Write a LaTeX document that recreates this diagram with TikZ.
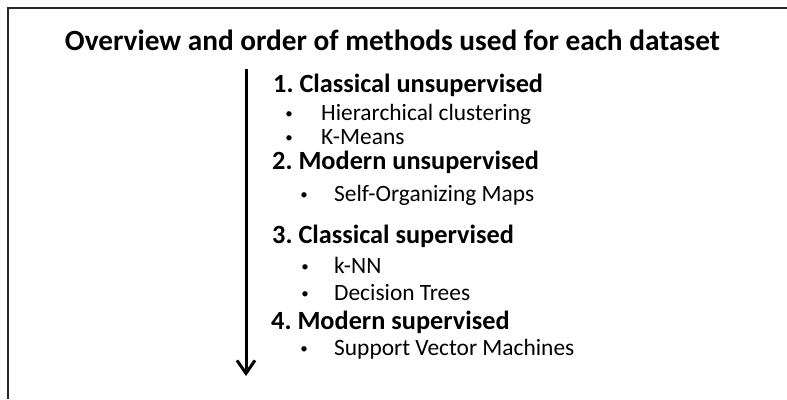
\documentclass[tikz,border=0pt]{standalone}
\usepackage{fontspec}
\setmainfont{Carlito}
\usetikzlibrary{arrows.meta,positioning}
\frenchspacing

\begin{document}
\begin{tikzpicture}[x=1pt, y=-1pt, every node/.style={inner sep=0pt, anchor=base west}]
    \tikzstyle{heading} = [font=\fontsize{29.3}{32}\selectfont\bfseries, anchor=base]
    \tikzstyle{stage} = [font=\fontsize{26.3}{30}\selectfont\bfseries]
    \tikzstyle{method} = [font=\fontsize{23.4}{27}\selectfont]
    \tikzstyle{dot} = [font=\fontsize{15}{18}\selectfont, anchor=base]
    \useasboundingbox (0,0) rectangle (787,399);
    \draw [line width=2pt, black!85] (8,399) -- (8,8) -- (787,8);

    \node (title) [heading] at (392.5,50) {Overview and order of methods used for each dataset};

    \node (classUnsup) [stage] at (273,92) {1. Classical unsupervised};
    \node (dotHier) [dot] at (289,118) {\textbullet};
    \node (hier) [method] at (321,120) {Hierarchical clustering};
    \node (dotKmeans) [dot] at (289,142) {\textbullet};
    \node (kmeans) [method] at (321,144) {K-Means};
    \node (modUnsup) [stage] at (272,169) {2. Modern unsupervised};
    \node (dotSom) [dot] at (304,199) {\textbullet};
    \node (som) [method] at (334,201) {Self-Organizing Maps};
    \node (classSup) [stage] at (272,243) {3. Classical supervised};
    \node (dotKnn) [dot] at (305,271) {\textbullet};
    \node (knn) [method] at (334,273) {k-NN};
    \node (dotTree) [dot] at (305,298) {\textbullet};
    \node (tree) [method] at (334,300) {Decision Trees};
    \node (modSup) [stage] at (271,329) {4. Modern supervised};
    \node (dotSvm) [dot] at (304,353) {\textbullet};
    \node (svm) [method] at (334,355) {Support Vector Machines};

    \coordinate (start) at (246,69);
    \coordinate (stop) at (246,376);
    \draw [line width=3pt, -{Straight Barb[length=13pt,width=18pt]}] (start) -- (stop);
\end{tikzpicture}
\end{document}
